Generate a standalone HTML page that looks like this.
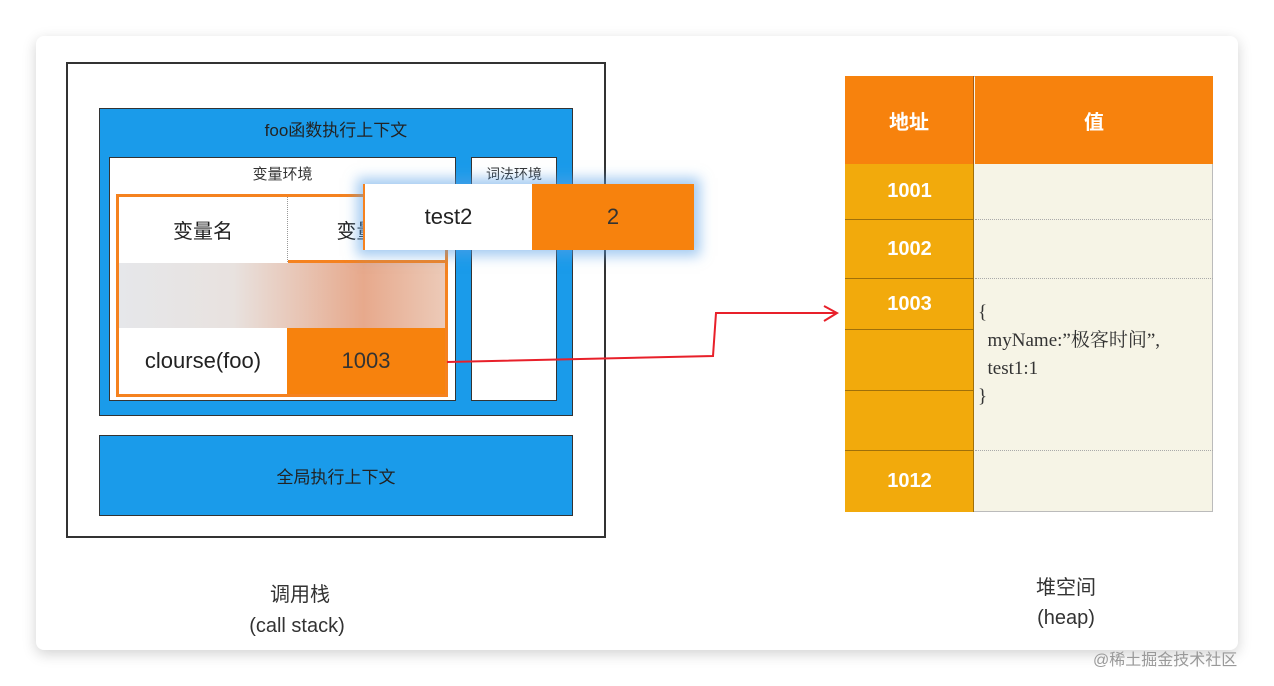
<!DOCTYPE html>
<html><head><meta charset="utf-8"><style>
body{margin:0;width:1274px;height:686px;background:#fff;position:relative;overflow:hidden;font-family:"Liberation Sans","Noto Sans CJK SC",sans-serif}
.a{position:absolute;box-sizing:border-box}
.c{display:flex;align-items:center;justify-content:center}
</style></head><body>
<div class="a" style="left:36px;top:36px;width:1202px;height:614px;background:#fff;border-radius:8px;box-shadow:0 4px 14px rgba(0,0,0,0.18)"></div>
<div class="a" style="left:66px;top:62px;width:540px;height:476px;border:2px solid #333"></div>
<div class="a" style="left:99px;top:108px;width:474px;height:308px;background:#1a9bea;border:1px solid #333"></div>
<div class="a c" style="left:99px;top:114px;width:474px;height:28px;font-size:17px;color:#222">foo函数执行上下文</div>
<div class="a" style="left:109px;top:157px;width:347px;height:244px;background:#fff;border:1px solid #333"></div>
<div class="a c" style="left:109px;top:160px;width:347px;height:26px;font-size:15px;color:#333">变量环境</div>
<div class="a" style="left:471px;top:157px;width:86px;height:244px;background:#fff;border:1px solid #333"></div>
<div class="a c" style="left:471px;top:162px;width:86px;height:24px;font-size:14px;color:#333">词法环境</div>
<div class="a" style="left:116px;top:194px;width:332px;height:203px;border:3px solid #f5821f;background:#fff"></div>
<div class="a c" style="left:119px;top:197px;width:168px;height:65px;font-size:20px;color:#222">变量名</div>
<div class="a" style="left:287px;top:197px;width:1px;height:65px;border-left:1px dotted #999"></div>
<div class="a c" style="left:288px;top:197px;width:157px;height:65px;font-size:20px;color:#222">变量值</div>
<div class="a" style="left:288px;top:260px;width:157px;height:3px;background:#f5821f"></div>
<div class="a" style="left:119px;top:263px;width:326px;height:65px;background:linear-gradient(90deg,#e6e7ea 0%,#e8e2df 35%,#e7a98c 75%,#eccab8 100%)"></div>
<div class="a c" style="left:119px;top:328px;width:168px;height:66px;font-size:22px;color:#222">clourse(foo)</div>
<div class="a c" style="left:287px;top:328px;width:158px;height:66px;background:#f7820d;font-size:22px;color:#333">1003</div>
<div class="a" style="left:363px;top:184px;width:331px;height:66px;box-shadow:0 0 12px 6px rgba(90,160,230,0.55)"></div>
<div class="a c" style="left:363px;top:184px;width:169px;height:66px;background:#fff;border-left:2px solid #f5821f;font-size:22px;color:#222">test2</div>
<div class="a c" style="left:532px;top:184px;width:162px;height:66px;background:#f7820d;font-size:22px;color:#333">2</div>
<div class="a" style="left:99px;top:435px;width:474px;height:81px;background:#1a9bea;border:1px solid #333"></div>
<div class="a c" style="left:99px;top:435px;width:474px;height:81px;font-size:17px;color:#222">全局执行上下文</div>
<svg class="a" style="left:0;top:0" width="1274" height="686">
<polyline points="447,362 713,356 716,313 836,313" fill="none" stroke="#e8202a" stroke-width="2"/>
<polyline points="824,306 837,313 824,321" fill="none" stroke="#e8202a" stroke-width="2"/>
</svg>
<div class="a" style="left:845px;top:76px;width:368px;height:436px;border:1px solid #bbb;background:#f6f4e6"></div>
<div class="a c" style="left:845px;top:76px;width:129px;height:88px;background:#f7820d;color:#fff;font-size:20px;font-weight:bold;border-right:1px solid #a85a10">地址</div>
<div class="a c" style="left:975px;top:76px;width:238px;height:88px;background:#f7820d;color:#fff;font-size:20px;font-weight:bold">值</div>
<div class="a" style="left:845px;top:164px;width:129px;height:348px;background:#f2aa0c;border-right:1px solid #a0700a"></div>
<div class="a c" style="left:845px;top:164px;width:129px;height:55px;color:#fff;font-size:20px;font-weight:bold">1001</div>
<div class="a c" style="left:845px;top:219px;width:129px;height:59px;color:#fff;font-size:20px;font-weight:bold;border-top:1px solid #a0700a">1002</div>
<div class="a c" style="left:845px;top:278px;width:129px;height:51px;color:#fff;font-size:20px;font-weight:bold;border-top:1px solid #a0700a">1003</div>
<div class="a" style="left:845px;top:329px;width:129px;height:1px;background:#a0700a"></div>
<div class="a" style="left:845px;top:390px;width:129px;height:1px;background:#a0700a"></div>
<div class="a c" style="left:845px;top:450px;width:129px;height:62px;color:#fff;font-size:20px;font-weight:bold;border-top:1px solid #a0700a">1012</div>
<div class="a" style="left:975px;top:219px;width:238px;border-top:1px dotted #aaa"></div>
<div class="a" style="left:975px;top:278px;width:238px;border-top:1px dotted #aaa"></div>
<div class="a" style="left:975px;top:450px;width:238px;border-top:1px dotted #aaa"></div>
<div class="a" style="left:978px;top:299px;font-family:'Liberation Serif','Noto Serif CJK SC',serif;font-size:19px;line-height:28px;color:#333;white-space:pre">{
  myName:”极客时间”,
  test1:1
}</div>
<div class="a c" style="left:200px;top:578px;width:200px;height:28px;font-size:20px;color:#333">调用栈</div>
<div class="a c" style="left:197px;top:612px;width:200px;height:28px;font-size:20px;color:#333">(call stack)</div>
<div class="a c" style="left:966px;top:571px;width:200px;height:28px;font-size:20px;color:#333">堆空间</div>
<div class="a c" style="left:966px;top:604px;width:200px;height:28px;font-size:20px;color:#333">(heap)</div>
<div class="a" style="left:1093px;top:646px;font-size:16px;color:#999">@稀土掘金技术社区</div>
</body></html>
